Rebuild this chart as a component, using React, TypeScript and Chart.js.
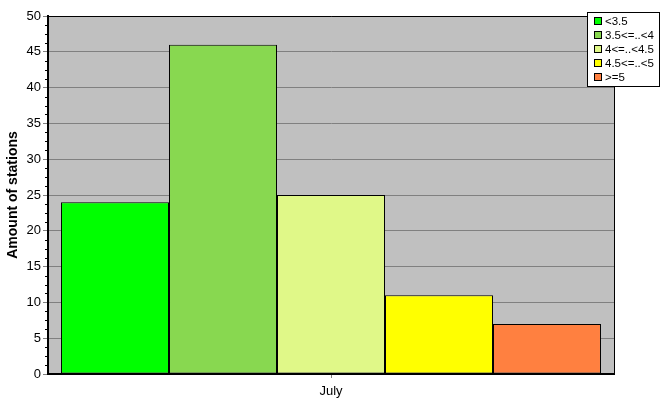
import React, { useEffect, useRef } from "react";
import { Chart, registerables } from "chart.js";

Chart.register(...registerables);

const categories = ["July"];
const seriesLabels = ["<3.5", "3.5<=..<4", "4<=..<4.5", "4.5<=..<5", ">=5"];
const seriesValues = [[24], [46], [25], [11], [7]];
const seriesColors = ["#00ff00", "#88d850", "#e0f888", "#ffff00", "#ff8040"];
const yTicks = [0, 5, 10, 15, 20, 25, 30, 35, 40, 45, 50];

const FONT = "'Liberation Sans', Arial, sans-serif";

const plotDecor = {
  id: "plotDecor",
  beforeDraw(chart: any) {
    const { ctx, chartArea: a } = chart;
    ctx.save();
    ctx.fillStyle = "#c0c0c0";
    ctx.fillRect(a.left, a.top, a.right - a.left, a.bottom - a.top);
    ctx.restore();
  },
  beforeDatasetsDraw(chart: any) {
    const { ctx, chartArea: a } = chart;
    const y = chart.scales.y;
    ctx.save();
    ctx.strokeStyle = "#000";
    ctx.lineWidth = 1;
    for (let v = 0; v <= 50; v += 1.25) {
      if (Math.abs(v % 5) < 1e-6) continue;
      const py = Math.round(y.getPixelForValue(v)) + 0.5;
      ctx.beginPath();
      ctx.moveTo(a.left - 3, py);
      ctx.lineTo(a.left, py);
      ctx.stroke();
    }
    ctx.restore();
  },
  afterDraw(chart: any) {
    const { ctx, chartArea: a } = chart;
    ctx.save();
    ctx.strokeStyle = "#000";
    ctx.lineWidth = 1;
    ctx.beginPath();
    ctx.moveTo(a.left, Math.round(a.top) + 0.5);
    ctx.lineTo(Math.round(a.right) + 0.5, Math.round(a.top) + 0.5);
    ctx.lineTo(Math.round(a.right) + 0.5, a.bottom);
    ctx.stroke();

    const lx = 587.5, ly = 12.5, lw = 72, lh = 74;
    ctx.fillStyle = "#fff";
    ctx.fillRect(lx, ly, lw, lh);
    ctx.strokeRect(lx, ly, lw, lh);
    ctx.font = `11.5px ${FONT}`;
    ctx.textBaseline = "middle";
    ctx.textAlign = "left";
    chart.data.datasets.forEach((ds: any, i: number) => {
      const cy = 21 + i * 14;
      ctx.fillStyle = ds.backgroundColor;
      ctx.fillRect(594, cy - 4, 8, 8);
      ctx.strokeRect(594.5, cy - 3.5, 7, 7);
      ctx.fillStyle = "#000";
      ctx.fillText(ds.label, 605, cy + 0.5);
    });
    ctx.restore();
  },
};

export default function App() {
  const ref = useRef<HTMLCanvasElement>(null);
  useEffect(() => {
    document.body.style.margin = "0";
    const chart = new Chart(ref.current!, {
      type: "bar",
      data: {
        labels: categories,
        datasets: seriesLabels.map((label, i) => ({
          label,
          data: seriesValues[i],
          backgroundColor: seriesColors[i],
          borderColor: "#000",
          borderWidth: 1,
          borderSkipped: false,
          categoryPercentage: 0.954,
          barPercentage: 1,
        })),
      },
      options: {
        animation: false,
        responsive: false,
        devicePixelRatio: 1,
        layout: { padding: { left: 0, top: 16, right: 53, bottom: 0 } },
        plugins: { legend: { display: false }, tooltip: { enabled: false } },
        scales: {
          x: {
            grid: { drawOnChartArea: false, tickLength: 4, color: "#808080", offset: false },
            border: { color: "#000", width: 2 },
            ticks: { color: "#000", font: { family: FONT, size: 13 }, padding: 6 },
            afterFit(s: any) { s.height = 41; },
          },
          y: {
            min: 0,
            max: 50,
            afterBuildTicks(s: any) { s.ticks = yTicks.map((v) => ({ value: v })); },
            grid: { color: "#808080", tickLength: 5 },
            border: { color: "#000", width: 2 },
            ticks: { color: "#000", font: { family: FONT, size: 13 }, padding: 2 },
            title: {
              display: true,
              text: "Amount of stations",
              color: "#000",
              font: { family: FONT, size: 14, weight: "bold" },
              padding: { top: 5, bottom: 0 },
            },
            afterFit(s: any) { s.width = 48; },
          },
        },
      },
      plugins: [plotDecor],
    });
    return () => chart.destroy();
  }, []);
  return (
    <div style={{ width: 667, height: 415, background: "#fff" }}>
      <canvas ref={ref} width={667} height={415} style={{ display: "block" }} />
    </div>
  );
}
